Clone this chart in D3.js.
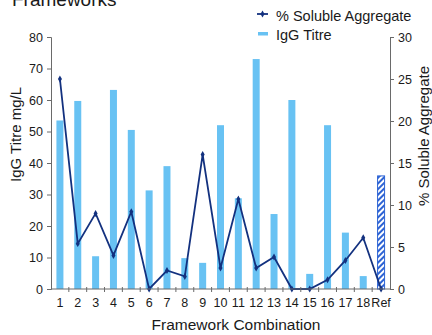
<!DOCTYPE html>
<html><head><meta charset="utf-8">
<script src="https://cdn.jsdelivr.net/npm/d3@7"></script>
<style>body{margin:0;background:#fff}svg{display:block;font-family:"Liberation Sans",Arial,sans-serif}</style>
</head><body>
<svg id="c" width="432" height="335"></svg>
<script>
const categories = ["1","2","3","4","5","6","7","8","9","10","11","12","13","14","15","16","17","18","Ref"];
const iggTitre = [53.5,59.7,10.4,63.2,50.5,31.3,39,9.8,8.3,52,28.8,73,23.8,60,4.8,52,17.9,4.1,35.9];
const solubleAgg = [25,5.4,9.0,4.0,9.2,0,2.2,1.5,16.0,2.5,10.7,2.5,3.8,0,0,1.1,3.4,6.1,0];
const leftTicks = [0,10,20,30,40,50,60,70,80];
const rightTicks = [0,5,10,15,20,25,30];

const svg = d3.select("#c");
const L = 51, R = 390, T = 37, B = 289;
const x = d3.scaleBand().domain(categories).range([L, R]);
const yL = d3.scaleLinear().domain([0,80]).range([B, T]);
const yR = d3.scaleLinear().domain([0,30]).range([B, T]);

const defs = svg.append("defs");
const pat = defs.append("pattern").attr("id","hatch").attr("patternUnits","userSpaceOnUse")
  .attr("width",4).attr("height",4).attr("patternTransform","rotate(45)");
pat.append("rect").attr("width",4).attr("height",4).attr("fill","#fff");
pat.append("rect").attr("width",2).attr("height",4).attr("fill","#2d63d4");

const barColor = "#68c2f3", lineColor = "#13317f", axisColor = "#6a6a6a", txt = "#1a1a1a";
const bw = 7;

// bars
svg.append("g").selectAll("rect").data(categories).join("rect")
  .attr("x", d => x(d) + x.bandwidth()/2 - bw/2)
  .attr("y", (d,i) => yL(iggTitre[i]))
  .attr("width", bw)
  .attr("height", (d,i) => B - yL(iggTitre[i]))
  .attr("fill", d => d === "Ref" ? "url(#hatch)" : barColor)
  .attr("stroke", d => d === "Ref" ? "#2d63d4" : "none")
  .attr("stroke-width", 1);

// line
const line = d3.line().x((d,i) => x(categories[i]) + x.bandwidth()/2).y(d => yR(d));
svg.append("path").datum(solubleAgg).attr("d", line).attr("fill","none")
  .attr("stroke", lineColor).attr("stroke-width", 1.8);
svg.append("g").selectAll("path").data(solubleAgg).join("path")
  .attr("transform", (d,i) => `translate(${x(categories[i]) + x.bandwidth()/2},${yR(d)})`)
  .attr("d", d3.symbol(d3.symbolDiamond, 14)()).attr("fill", lineColor);

// left axis
const gl = svg.append("g").attr("transform", `translate(${L},0)`)
  .call(d3.axisLeft(yL).tickValues(leftTicks).tickSize(4).tickPadding(4));
// right axis
const gr = svg.append("g").attr("transform", `translate(${R},0)`)
  .call(d3.axisRight(yR).tickValues(rightTicks).tickSize(4).tickPadding(4));
// x axis
const gx = svg.append("g").attr("transform", `translate(0,${B})`)
  .call(d3.axisBottom(x).tickSize(0).tickPadding(9));
gx.selectAll(".domain").attr("d", `M${L},0H${R}`);
gx.append("g").selectAll("line").data(categories.slice(1)).join("line")
  .attr("x1", d => x(d)).attr("x2", d => x(d)).attr("y1", -2).attr("y2", 3)
  .attr("stroke", axisColor);

[gl, gr, gx].forEach(g => {
  g.selectAll(".domain").attr("stroke", axisColor);
  g.selectAll(".tick line").attr("stroke", axisColor);
  g.selectAll("text").attr("fill", txt).attr("font-size", 12.5)
    .attr("font-family", '"Liberation Sans",Arial,sans-serif');
});

// axis titles
svg.append("text").attr("transform", `translate(21,134.5) rotate(-90)`)
  .attr("text-anchor","middle").attr("font-size",15).attr("fill",txt).text("IgG Titre mg/L");
svg.append("text").attr("transform", `translate(429,136) rotate(-90)`)
  .attr("text-anchor","middle").attr("font-size",15).attr("fill",txt).text("% Soluble Aggregate");
svg.append("text").attr("x", 236).attr("y", 330).attr("text-anchor","middle")
  .attr("font-size",15.5).attr("fill",txt).text("Framework Combination");

// title (cut off at top, as in the reference)
svg.append("text").attr("x", 12).attr("y", 6).attr("font-size", 19).attr("fill", txt).text("Frameworks");

// legend
const lg = svg.append("g");
lg.append("line").attr("x1",257).attr("x2",268).attr("y1",14).attr("y2",14).attr("stroke",lineColor).attr("stroke-width",1.8);
lg.append("path").attr("transform","translate(262.5,14)").attr("d", d3.symbol(d3.symbolDiamond, 14)()).attr("fill", lineColor);
lg.append("text").attr("x",276).attr("y",21).attr("font-size",14.5).attr("fill",txt).text("% Soluble Aggregate");
lg.append("rect").attr("x",258).attr("y",32).attr("width",10).attr("height",3.5).attr("fill",barColor);
lg.append("text").attr("x",276).attr("y",39.5).attr("font-size",14.5).attr("fill",txt).text("IgG Titre");
</script>
</body></html>
